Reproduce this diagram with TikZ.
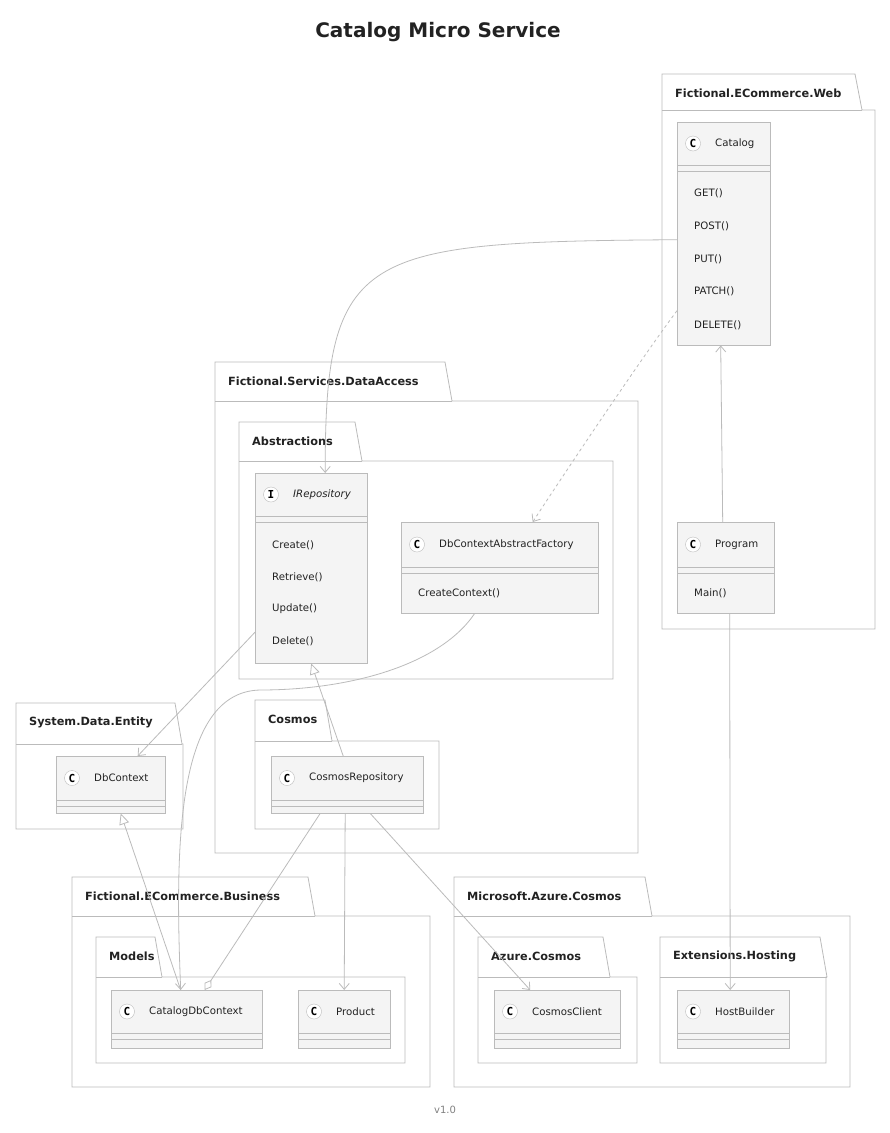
\documentclass[tikz,border=0pt]{standalone}
\usepackage{fontspec}
\setmainfont{DejaVu Sans}
\newfontfamily\iconfont{DejaVu Sans Mono}
\usetikzlibrary{arrows.meta}
\definecolor{bd}{HTML}{BBBBBB}
\definecolor{fl}{HTML}{F4F4F4}
\definecolor{tx}{HTML}{222222}
\tikzset{
  box/.style={draw=bd,fill=fl,anchor=north west,inner sep=0},
  lbl/.style={font=\fontsize{10.2}{12}\selectfont,text=tx,anchor=west,inner sep=0},
  plbl/.style={font=\bfseries\fontsize{11.3}{13}\selectfont,text=tx,anchor=west,inner sep=0},
  con/.style={draw=bd,line width=0.8pt},
  dep/.style={con,-{Straight Barb[length=6pt,width=10pt]}},
  inh/.style={con,-{Triangle[open,length=11pt,width=10pt,fill=white]}},
  agg/.style={con,-{Diamond[open,length=12pt,width=8pt,fill=white]}},
}
\newcommand\umlpkg[7]{%
  \draw[bd,line width=0.8pt,fill=white] (#1,#2)--(#3,#2)--({#3+7},#4)--(#5,#4)--(#5,#6)--(#1,#6)--cycle;
  \draw[bd,line width=0.8pt] (#1,#4)--({#3+7},#4);
  \node[plbl] at ({#1+13},{#2+19}) {#7};}
\newcommand\umlcls[9]{%
  \node[box,minimum width={(#4-#2)*1pt},minimum height={(#5-#3)*1pt}] (#1) at (#2,#3) {};
  \draw[bd,line width=0.8pt] (#2,#7)--(#4,#7) (#2,{#7+6})--(#4,{#7+6});
  \node[draw=bd,fill=white,circle,minimum size=15pt,inner sep=0,text=black,font=\iconfont\bfseries\fontsize{11}{12}\selectfont] at ({#2+16},{(#3+#7)/2}) {#8};
  \node[lbl,font=#9\fontsize{10.2}{12}\selectfont] at ({#2+38},{(#3+#7)/2}) {#6};}
\newcommand\meth[3]{\node[lbl] at ({#1+17},#2) {#3};}
\begin{document}
\begin{tikzpicture}[x=1pt,y=-1pt]
\useasboundingbox (0,0) rectangle (890,1133);
\node[font=\bfseries\fontsize{20}{24}\selectfont,text=tx] (title) at (438,32) {Catalog Micro Service};
\node[font=\fontsize{10}{12}\selectfont,text=gray] (ver) at (445,1110) {v1.0};
\umlpkg{662}{74}{855}{110}{875}{629}{Fictional.ECommerce.Web}
\umlpkg{215}{362}{445}{401}{638}{853}{Fictional.Services.DataAccess}
\umlpkg{239}{422}{355}{461}{613}{679}{Abstractions}
\umlpkg{255}{700}{325}{741}{439}{829}{Cosmos}
\umlpkg{16}{703}{175}{744}{183}{829}{System.Data.Entity}
\umlpkg{72}{877}{308}{916}{430}{1087}{Fictional.ECommerce.Business}
\umlpkg{96}{937}{155}{977}{405}{1063}{Models}
\umlpkg{454}{877}{645}{916}{850}{1087}{Microsoft.Azure.Cosmos}
\umlpkg{478}{937}{603}{977}{637}{1063}{Azure.Cosmos}
\umlpkg{660}{937}{820}{977}{826}{1063}{Extensions.Hosting}
\umlcls{cat}{677}{122}{770}{345}{Catalog}{165}{C}{}
\meth{677}{193}{GET()}\meth{677}{226}{POST()}\meth{677}{259}{PUT()}\meth{677}{291}{PATCH()}\meth{677}{325}{DELETE()}
\umlcls{prog}{677}{522}{774}{613}{Program}{567}{C}{}
\meth{677}{593}{Main()}
\umlcls{irep}{255}{473}{367}{663}{IRepository}{516}{I}{\itshape}
\meth{255}{545}{Create()}\meth{255}{577}{Retrieve()}\meth{255}{609}{Update()}\meth{255}{641}{Delete()}
\umlcls{dbf}{401}{522}{598}{613}{DbContextAbstractFactory}{567}{C}{}
\meth{401}{593}{CreateContext()}
\umlcls{dbc}{56}{756}{165}{813}{DbContext}{800}{C}{}
\umlcls{crep}{271}{756}{423}{813}{CosmosRepository}{800}{C}{}
\umlcls{cdb}{111}{990}{262}{1048}{CatalogDbContext}{1033}{C}{}
\umlcls{prod}{298}{990}{390}{1048}{Product}{1033}{C}{}
\umlcls{cli}{494}{990}{620}{1048}{CosmosClient}{1033}{C}{}
\umlcls{host}{677}{990}{789}{1048}{HostBuilder}{1033}{C}{}
\draw[dep] ([yshift=-6]cat.west) .. controls (360,242) and (325,250) .. ([xshift=14]irep.north);
\draw[dep,dashed] ([yshift=-77]cat.west) .. controls (640,360) and (560,480) .. ([xshift=33]dbf.north);
\draw[dep] ([xshift=-3]prog.north) -- ([xshift=-3]cat.south);
\draw[dep] ([xshift=4]prog.south) -- ([xshift=-3]host.north);
\draw[dep] ([yshift=-64]irep.west) -- ([xshift=27]dbc.north);
\draw[inh] ([xshift=-4]crep.north) -- ([xshift=0]irep.south);
\draw[dep] ([xshift=-25]dbf.south) .. controls (440,665) and (350,690) .. (260,690) .. controls (175,692) and (175,850) .. ([xshift=-6]cdb.north);
\draw[inh] ([xshift=-6]cdb.north) -- ([xshift=10]dbc.south);
\draw[agg] ([xshift=-27]crep.south) -- ([xshift=18]cdb.north);
\draw[dep] ([xshift=-2]crep.south) -- ([xshift=0]prod.north);
\draw[dep] ([xshift=23]crep.south) -- ([xshift=-27]cli.north);
\end{tikzpicture}
\end{document}
